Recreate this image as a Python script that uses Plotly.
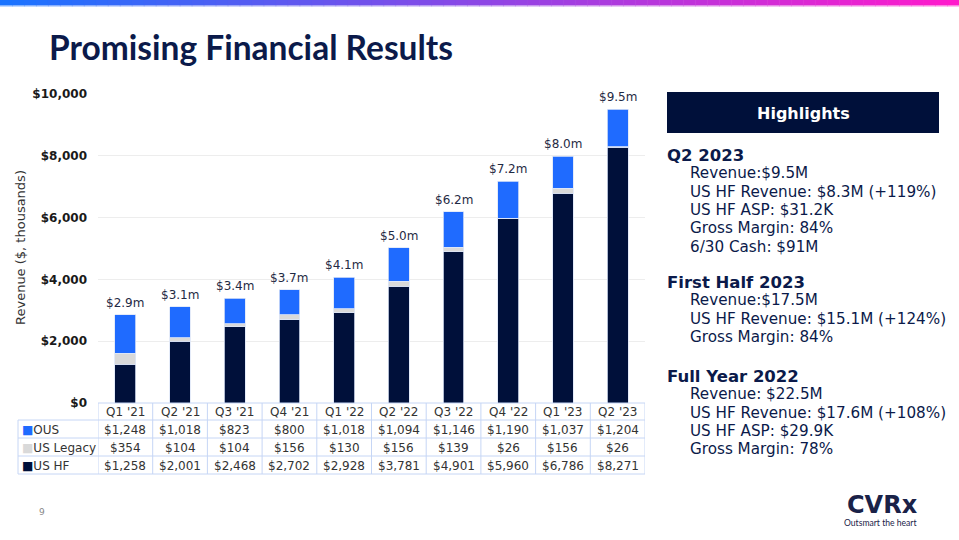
import plotly.graph_objects as go

# ---------------- data ----------------
quarters = ["Q1 '21", "Q2 '21", "Q3 '21", "Q4 '21", "Q1 '22", "Q2 '22", "Q3 '22", "Q4 '22", "Q1 '23", "Q2 '23"]
ous = [1248, 1018, 823, 800, 1018, 1094, 1146, 1190, 1037, 1204]
us_legacy = [354, 104, 104, 156, 130, 156, 139, 26, 156, 26]
us_hf = [1258, 2001, 2468, 2702, 2928, 3781, 4901, 5960, 6786, 8271]
series_names = ["OUS", "US Legacy", "US HF"]
y_ticks = [0, 2000, 4000, 6000, 8000, 10000]

highlights = [
    ("Q2 2023", ["Revenue:$9.5M", "US HF Revenue: $8.3M (+119%)", "US HF ASP: $31.2K",
                 "Gross Margin: 84%", "6/30 Cash: $91M"]),
    ("First Half 2023", ["Revenue:$17.5M", "US HF Revenue: $15.1M (+124%)", "Gross Margin: 84%"]),
    ("Full Year 2022", ["Revenue: $22.5M", "US HF Revenue: $17.6M (+108%)", "US HF ASP: $29.9K",
                        "Gross Margin: 78%"]),
]

# ---------------- style ----------------
W, H = 959, 540
PL, PR, PT, PB = 98, 645, 94, 403  # plot area in px
NAVY = "#00103a"
BLUE = "#1f6bff"
GRAY = "#d9d9d9"
TXT = "#0b1a4a"
FONT = "DejaVu Sans"
colors = {"OUS": BLUE, "US Legacy": GRAY, "US HF": NAVY}


def px_x(px):
    return (px - PL) / (PR - PL)


def px_y(py):
    return (PB - py) / (PB - PT)


def note(x, y, text, size, color, family=FONT, xanchor="center", xref="paper", yref="paper", **kw):
    d = dict(x=x, y=y, xref=xref, yref=yref, text=text, showarrow=False, xanchor=xanchor,
             yanchor=kw.pop("yanchor", "middle"), font=dict(family=family, size=size, color=color))
    d.update(kw)
    return d


fig = go.Figure()
for name, vals in [("US HF", us_hf), ("US Legacy", us_legacy), ("OUS", ous)]:
    fig.add_trace(go.Bar(x=quarters, y=vals, name=name, marker_color=colors[name],
                         marker_line=dict(color="#dde6f8", width=0.8), showlegend=False,
                         hoverinfo="x+y+name"))

totals = [a + b + c for a, b, c in zip(ous, us_legacy, us_hf)]
annotations = []
for q, t in zip(quarters, totals):
    annotations.append(note(q, t, f"${t/1000:.1f}m", 12, "#1f2a44", xref="x", yref="y",
                            yanchor="bottom", yshift=3))

shapes = []
# top gradient bar
N = 80
c0 = (26, 115, 255)
c1 = (255, 26, 203)
for i in range(N):
    t = i / (N - 1)
    c = tuple(int(round(c0[k] + (c1[k] - c0[k]) * t)) for k in range(3))
    x0 = px_x(i * W / N)
    x1 = px_x((i + 1) * W / N + 0.5)
    shapes.append(dict(type="rect", xref="paper", yref="paper", x0=x0, x1=x1,
                       y0=px_y(5), y1=px_y(0), fillcolor=f"rgb{c}", line=dict(width=0), layer="above"))
    shapes.append(dict(type="rect", xref="paper", yref="paper", x0=x0, x1=x1,
                       y0=px_y(6.5), y1=px_y(5), fillcolor=f"rgba{c + (0.55,)}", line=dict(width=0), layer="above"))

# ---------------- data table ----------------
BORDER = "#c6d6f5"
row_y = [403, 420, 438, 456, 474]  # header top, then row boundaries
for yy in row_y:
    shapes.append(dict(type="line", xref="x", yref="paper", x0=-0.5, x1=len(quarters) - 0.5,
                       y0=px_y(yy), y1=px_y(yy), line=dict(color=BORDER, width=1)))
for yy in row_y[1:]:
    shapes.append(dict(type="line", xref="paper", yref="paper", x0=px_x(18), x1=0,
                       y0=px_y(yy), y1=px_y(yy), line=dict(color=BORDER, width=1)))
for i in range(len(quarters) + 1):
    shapes.append(dict(type="line", xref="x", yref="paper", x0=i - 0.5, x1=i - 0.5,
                       y0=px_y(403), y1=px_y(474), line=dict(color=BORDER, width=1)))
shapes.append(dict(type="line", xref="paper", yref="paper", x0=px_x(18), x1=px_x(18),
                   y0=px_y(420), y1=px_y(474), line=dict(color=BORDER, width=1)))

row_centers = [412, 429.5, 447.5, 465.5]
for q in quarters:
    annotations.append(note(q, px_y(row_centers[0]), q, 12, "#333333", xref="x"))
for r, (name, vals) in enumerate(zip(series_names, [ous, us_legacy, us_hf])):
    yc = px_y(row_centers[r + 1])
    annotations.append(note(px_x(20), yc, f"<span style='color:{colors[name]}'>■</span>{name}", 12,
                            "#333333", xanchor="left"))
    for q, v in zip(quarters, vals):
        annotations.append(note(q, yc, f"${v:,}", 12, "#333333", xref="x"))

# y axis title
annotations.append(note(px_x(20), px_y(248), "Revenue ($, thousands)", 13, "#333333", textangle=-90))

# title
annotations.append(note(px_x(47), px_y(47), "<b>Promising Financial Results</b>", 33.5, TXT,
                        family="Lato", xanchor="left"))

# highlights box
shapes.append(dict(type="rect", xref="paper", yref="paper", x0=px_x(667), x1=px_x(939),
                   y0=px_y(133), y1=px_y(92), fillcolor=NAVY, line=dict(width=0)))
annotations.append(note(px_x(803), px_y(113), "<b>Highlights</b>", 16, "white"))

head_y = [155, 282, 376]
for (head, items), hy in zip(highlights, head_y):
    annotations.append(note(px_x(665), px_y(hy), f"<b>{head}</b>", 16.5, TXT, xanchor="left"))
    for j, it in enumerate(items):
        annotations.append(note(px_x(688), px_y(hy + 18.3 * (j + 1)), it, 15.2, TXT, xanchor="left"))

# page number
annotations.append(note(px_x(42), px_y(512), "9", 9, "#888888"))
# logo
annotations.append(note(px_x(882), px_y(505), "<b>CVRx</b>", 24, "#1a2248"))
annotations.append(note(px_x(881), px_y(522.5), "Outsmart the heart", 8.6, "#1a2248", family="Lato"))

fig.update_layout(
    width=W, height=H, barmode="stack", bargap=0.62,
    margin=dict(l=PL, r=W - PR, t=PT, b=H - PB, pad=0),
    plot_bgcolor="white", paper_bgcolor="white",
    xaxis=dict(showticklabels=False, showgrid=False, zeroline=False, showline=False,
               range=[-0.5, len(quarters) - 0.5]),
    yaxis=dict(range=[0, 10000], tickvals=y_ticks, ticktext=[f"<b>${v:,}</b>" for v in y_ticks],
               tickfont=dict(family=FONT, size=12, color="#1a1a1a"), showgrid=True,
               gridcolor="#ededed", gridwidth=1, zeroline=False, showline=False, ticks="", ticklen=0,
               automargin=False, ticklabelstandoff=10),
    annotations=annotations, shapes=shapes,
    font=dict(family=FONT),
)

fig.write_html("out.html", config={"displayModeBar": False},
               post_script="document.body.style.margin='0';document.body.style.overflow='hidden';")
